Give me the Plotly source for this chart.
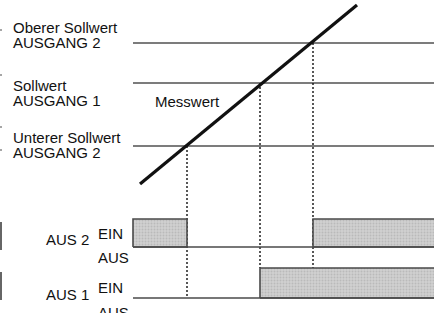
import plotly.graph_objects as go

# ---------------- data (schematic units: x = time, y = level, screen-like, y downwards) -------------
setpoint_names = ["Oberer Sollwert", "Sollwert", "Unterer Sollwert"]
setpoint_outputs = ["AUSGANG 2", "AUSGANG 1", "AUSGANG 2"]
setpoint_levels = [43, 83, 146]
time_start, time_end = 133, 470

measured_t = [140, 357]
measured_v = [184, 5]

switch_times = [187, 260, 313]          # crossings: lower SP, SP, upper SP
switch_levels = [146, 83, 43]
dash_bottom = [298, 268, 268]

# output states: 1 = EIN, 0 = AUS between consecutive times
out2_t = [133, 187, 313, 470]
out2_state = [1, 0, 1]
out1_t = [133, 260, 470]
out1_state = [0, 1]
out2_levels = {"on": 219, "off": 247}
out1_levels = {"on": 268, "off": 298}

W, H = 434, 313
fig = go.Figure()

ink = "#111111"
gray_line = "#7c7c7c"

# setpoint lines
for lvl in setpoint_levels:
    fig.add_trace(go.Scatter(x=[time_start, time_end], y=[lvl, lvl], mode="lines",
                             line=dict(color=gray_line, width=2.2), hoverinfo="skip"))

# dotted verticals
for t, top, bot in zip(switch_times, switch_levels, dash_bottom):
    fig.add_trace(go.Scatter(x=[t, t], y=[top, bot], mode="lines",
                             line=dict(color=ink, width=1.4, dash="2px,2px"), hoverinfo="skip"))

# measured value line
fig.add_trace(go.Scatter(x=measured_t, y=measured_v, mode="lines",
                         line=dict(color="#111111", width=3.2), hoverinfo="skip"))


def draw_output(times, states, levels):
    # fills for ON phases
    for i, s in enumerate(states):
        if s == 1:
            x0, x1 = times[i], times[i + 1]
            fig.add_trace(go.Scatter(
                x=[x0, x1, x1, x0, x0],
                y=[levels["off"], levels["off"], levels["on"], levels["on"], levels["off"]],
                mode="lines", fill="toself", fillcolor="#c6c6c6",
                fillpattern=dict(shape=".", bgcolor="#d0d0d0", fgcolor="#a4a4a4", size=3, solidity=0.35),
                line=dict(color="#4a4a4a", width=1.6), hoverinfo="skip"))
    # base (AUS) line
    fig.add_trace(go.Scatter(x=[times[0], times[-1]], y=[levels["off"], levels["off"]], mode="lines",
                             line=dict(color="#4a4a4a", width=1.6), hoverinfo="skip"))


draw_output(out2_t, out2_state, out2_levels)
draw_output(out1_t, out1_state, out1_levels)

# cropped marks on the left edge
for y0, y1 in [(222, 250), (272, 300)]:
    fig.add_trace(go.Scatter(x=[1, 1], y=[y0, y1], mode="lines",
                             line=dict(color="#666666", width=2), hoverinfo="skip"))
fig.add_trace(go.Scatter(x=[1, 1, 1, 1], y=[30, 75, 127, 150], mode="markers",
                         marker=dict(color="#888888", size=2), hoverinfo="skip"))

font = dict(family="Liberation Sans, Arial, Helvetica, sans-serif", size=15, color="#111111")


def label(text, x, baseline):
    fig.add_annotation(x=x, y=baseline - 5.5, text=text, showarrow=False, xanchor="left",
                       yanchor="middle", font=font, borderpad=0, xref="x", yref="y")


baselines_a = [33, 91, 143]
baselines_b = [48, 106, 158]
for name, out, b1, b2 in zip(setpoint_names, setpoint_outputs, baselines_a, baselines_b):
    label(name, 12, b1)
    label(out, 12, b2)

label("Messwert", 154, 107)
label("AUS 2", 45, 245)
label("EIN", 97, 239)
label("AUS", 97, 263)
label("AUS 1", 45, 300)
label("EIN", 97, 293)
label("AUS", 97, 318)

fig.update_layout(
    width=W, height=H, margin=dict(l=0, r=0, t=0, b=0),
    paper_bgcolor="white", plot_bgcolor="white", showlegend=False,
    xaxis=dict(range=[0, W], visible=False, fixedrange=True),
    yaxis=dict(range=[H, 0], visible=False, fixedrange=True),
)

fig.write_html("out.html", config={"displayModeBar": False},
               post_script="document.body.style.margin='0';document.body.style.overflow='hidden';")
